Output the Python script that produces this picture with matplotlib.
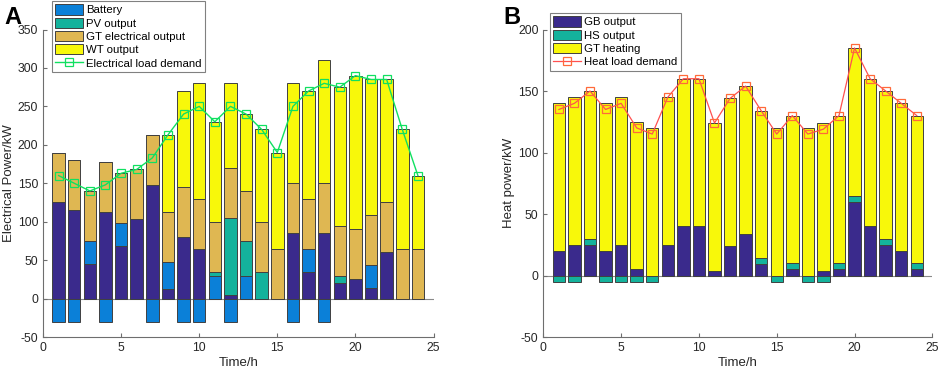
import numpy as np
import matplotlib.pyplot as plt

plt.rcParams['font.family'] = ['Liberation Sans', 'DejaVu Sans']
plt.rcParams['font.size'] = 8.5
plt.rcParams['axes.unicode_minus'] = False

hours = np.arange(1, 25)

# A - electrical power balance
grid_buy = [125, 115, 45, 113, 68, 103, 148, 13, 80, 65, 0, 5,
            0, 0, 0, 85, 35, 85, 20, 25, 14, 60, 0, 0]
battery = [-30, -30, 30, -30, 30, 0, -30, 35, -30, -30, 30, -30,
           30, 0, 0, -30, 30, -30, 0, 0, 30, 0, 0, 0]
pv_out = [0, 0, 0, 0, 0, 0, 0, 0, 0, 0, 5, 100,
          45, 35, 0, 0, 0, 0, 10, 0, 0, 0, 0, 0]
gt_elec = [65] * 24
wt_out = [0, 0, 0, 0, 0, 0, 0, 100, 125, 150, 130, 110,
          100, 120, 125, 130, 140, 160, 180, 200, 176, 160, 155, 95]
elec_load = [160, 150, 140, 148, 163, 168, 183, 213, 240, 250, 230, 250,
             240, 220, 190, 250, 270, 280, 275, 290, 285, 285, 220, 160]

# B - heat power balance
gb_out = [20, 25, 25, 20, 25, 5, 0, 25, 40, 40, 4, 24,
          34, 9, 0, 5, 0, 4, 5, 60, 40, 25, 20, 5]
hs_out = [-5, -5, 5, -5, -5, -5, -5, 0, 0, 0, 0, 0,
          0, 5, -5, 5, -5, -5, 5, 5, 0, 5, 0, 5]
gt_heat = [120] * 24
heat_load = [135, 140, 150, 135, 140, 120, 115, 145, 160, 160, 124, 144,
             154, 134, 115, 130, 115, 119, 130, 185, 160, 150, 140, 130]

c_navy = '#3a2a8c'
c_blue = '#0b80d8'
c_teal = '#14b29c'
c_tan = '#dfb752'
c_yel = '#f8f80a'
edge = '#404040'
axcol = '#6e6e6e'


def stacked(ax, series, colors, labels):
    pos = np.zeros(24)
    neg = np.zeros(24)
    for vals, col, lab in zip(series, colors, labels):
        v = np.array(vals, dtype=float)
        p = np.where(v > 0, v, 0)
        n = np.where(v < 0, v, 0)
        ax.bar(hours, p, 0.8, bottom=pos, color=col, edgecolor=edge,
               linewidth=0.7, label=lab, zorder=2)
        if n.any():
            ax.bar(hours, n, 0.8, bottom=neg, color=col, edgecolor=edge,
                   linewidth=0.7, zorder=2)
        pos += p
        neg += n


def style(ax, ylim, yticks):
    ax.set_xlim(0, 25)
    ax.set_ylim(*ylim)
    ax.set_xticks([0, 5, 10, 15, 20, 25])
    ax.set_yticks(yticks)
    for s in ['top', 'right']:
        ax.spines[s].set_visible(False)
    for s in ['left', 'bottom']:
        ax.spines[s].set_color(axcol)
        ax.spines[s].set_linewidth(0.8)
    ax.tick_params(direction='in', length=3, color=axcol, colors='#262626',
                   labelsize=8.8)
    ax.axhline(0, color='#8a8a8a', lw=0.8, zorder=1)
    ax.set_xlabel('Time/h', fontsize=9.5, color='#262626', labelpad=2)


def legend(ax, x, y):
    h, l = ax.get_legend_handles_labels()
    h = h[1:] + h[:1]
    l = l[1:] + l[:1]
    leg = ax.legend(h, l, loc='upper left', bbox_to_anchor=(x / 941, 1 - y / 376),
                    bbox_transform=fig.transFigure, fancybox=False, framealpha=1,
                    edgecolor='#808080', fontsize=8.2, borderaxespad=0,
                    handlelength=2.4, handleheight=1.0, handletextpad=0.3,
                    labelspacing=0.2, borderpad=0.3)
    leg.get_frame().set_linewidth(0.8)


fig = plt.figure(figsize=(9.41, 3.76), dpi=100)
axA = fig.add_axes([0.0457, 0.1037, 0.415, 0.8178])
axB = fig.add_axes([0.5774, 0.1037, 0.4134, 0.8178])

stacked(axA, [grid_buy, battery, pv_out, gt_elec, wt_out],
        [c_navy, c_blue, c_teal, c_tan, c_yel],
        ['_nolegend_', 'Battery', 'PV output', 'GT electrical output', 'WT output'])
axA.plot(hours, elec_load, color='#10e060', lw=1.0, marker='s', ms=6,
         mfc='none', mec='#10e060', mew=0.9, label='Electrical load demand', zorder=3)
style(axA, (-50, 350), np.arange(-50, 351, 50))
axA.set_ylabel('Electrical Power/kW', fontsize=9.5, color='#262626', labelpad=2)
legend(axA, 52, 1)

stacked(axB, [gb_out, hs_out, gt_heat],
        [c_navy, c_teal, c_yel],
        ['GB output', 'HS output', 'GT heating'])
axB.plot(hours, heat_load, color='#ff5050', lw=0.9, marker='s', ms=6,
         mfc='none', mec='#ff6a3a', mew=0.9, label='Heat load demand', zorder=3)
style(axB, (-50, 200), np.arange(-50, 201, 50))
axB.set_ylabel('Heat power/kW', fontsize=9.5, color='#262626', labelpad=2)
legend(axB, 550, 13)

fig.text(0.005, 0.985, 'A', fontsize=17, fontweight='bold', va='top')
fig.text(0.535, 0.985, 'B', fontsize=17, fontweight='bold', va='top')

fig.savefig('out.png', dpi=100)
